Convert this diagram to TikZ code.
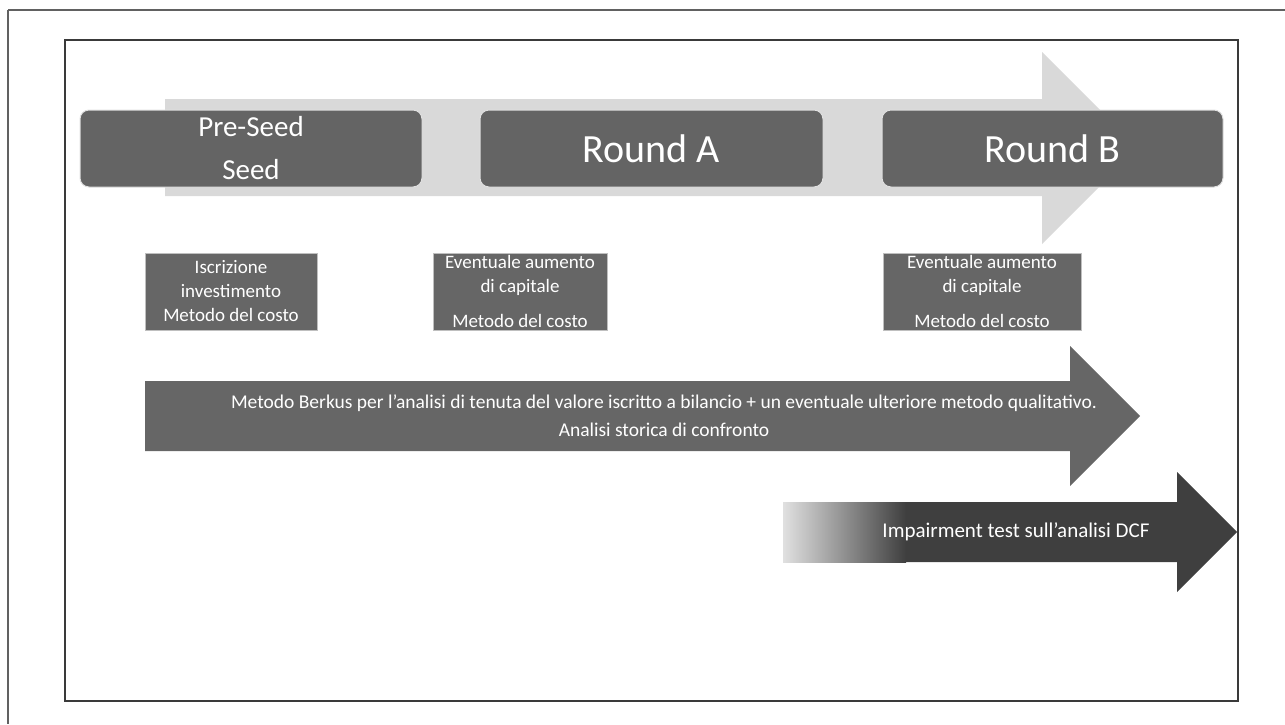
\documentclass[tikz,border=0pt]{standalone}
\usepackage{fontspec}
\setmainfont{Carlito}
\usetikzlibrary{positioning}
\definecolor{bandgray}{HTML}{D9D9D9}
\definecolor{stagegray}{HTML}{646464}
\definecolor{boxgray}{HTML}{666666}
\definecolor{darkarrow}{HTML}{3F3F3F}
\definecolor{framegray}{HTML}{3A3A3A}
\tikzset{
  stage/.style={
    rectangle,
    rounded corners=9pt,
    fill=stagegray,
    draw=white!88!black,
    line width=1pt,
    text=white,
    align=center,
    minimum height=77pt,
    inner sep=0pt
  },
  stepbox/.style={
    rectangle,
    fill=boxgray,
    draw=white!75!black,
    line width=0.8pt,
    text=white,
    align=center,
    minimum height=77pt,
    inner sep=0pt,
    font=\fontsize{19}{24}\selectfont
  },
  frame/.style={draw=framegray, line width=1.6pt},
  note/.style={text=white, align=center}
}

\begin{document}
\begin{tikzpicture}[x=1pt, y=-1pt]
\useasboundingbox (0,0) rectangle (1285,724);
\draw[frame, draw=framegray!80] (8,10) -- (1285,10);
\draw[frame, draw=framegray!80] (8,10) -- (8,724);
\draw[frame] (65,40) rectangle (1238,701);

\fill[bandgray] (165,99) -- (1042,99) -- (1042,52) -- (1138,148) -- (1042,244) -- (1042,196) -- (165,196) -- cycle;

\node[stage, minimum width=342pt, font=\fontsize{29}{43}\selectfont] (preseed) at (251,148.5) {Pre-Seed\\Seed};
\node[stage, minimum width=343pt, font=\fontsize{40}{44}\selectfont] (rounda) at (651.5,148.5) {Round A};
\node[stage, minimum width=341pt, font=\fontsize{40}{44}\selectfont] (roundb) at (1052.5,148.5) {Round B};

\node[stepbox, minimum width=172pt] (iscrizione) at (231,291.5) {Iscrizione\\investimento\\Metodo del costo};
\node[stepbox, minimum width=174pt] (aumentoa) at (520,291.5) {Eventuale aumento\\di capitale\\[11pt]Metodo del costo};
\node[stepbox, minimum width=198pt] (aumentob) at (982,291.5) {Eventuale aumento\\di capitale\\[11pt]Metodo del costo};

\fill[boxgray] (145,381) -- (1070,381) -- (1070,346) -- (1140,416) -- (1070,486) -- (1070,451) -- (145,451) -- cycle;
\node[note, font=\fontsize{19.5}{28}\selectfont] (berkus) at (664,416) {Metodo Berkus per l’analisi di tenuta del valore iscritto a bilancio + un eventuale ulteriore metodo qualitativo.\\Analisi storica di confronto};

\fill[darkarrow] (783,502) -- (1177,502) -- (1177,472) -- (1237,532) -- (1177,592) -- (1177,562) -- (783,562) -- cycle;
\shade[left color=white!88!black, right color=darkarrow] (783,502) rectangle (906,562);
\node[note, font=\fontsize{21}{24}\selectfont] (impairment) at (1016,532) {Impairment test sull’analisi DCF};
\end{tikzpicture}
\end{document}
